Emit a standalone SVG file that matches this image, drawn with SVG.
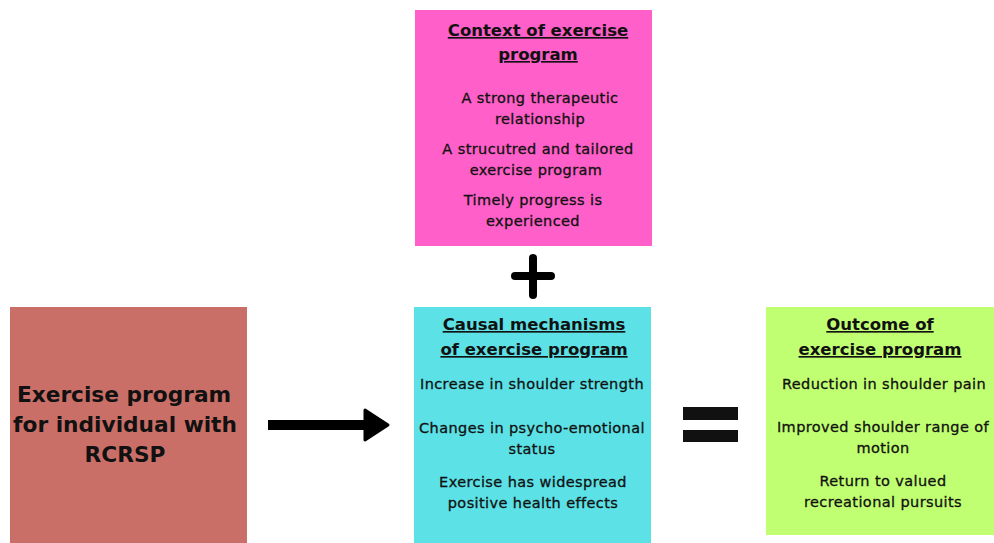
<svg xmlns="http://www.w3.org/2000/svg" width="994" height="543" viewBox="0 0 994 543">
<style>
.t{font-family:"DejaVu Sans","Noto Sans",sans-serif;font-weight:700;font-size:16.5px;fill:#111;text-anchor:middle;text-decoration:underline}
.b{font-family:"DejaVu Sans","Noto Sans",sans-serif;font-weight:400;font-size:14.5px;letter-spacing:0.4px;fill:#111;stroke:#111;stroke-width:0.3px;text-anchor:middle}
.m{font-family:"DejaVu Sans","Noto Sans",sans-serif;font-weight:700;font-size:21.7px;fill:#111;text-anchor:middle}
</style>
<rect width="994" height="543" fill="#ffffff"/>
<g id="context">
<rect x="415" y="10" width="237" height="236" fill="#ff5fc8"/>
<text class="t" x="538" y="36">Context of exercise</text>
<text class="t" x="538" y="60">program</text>
<text class="b" x="540" y="103">A strong therapeutic</text>
<text class="b" x="540" y="124">relationship</text>
<text class="b" x="538" y="154">A strucutred and tailored</text>
<text class="b" x="536" y="175">exercise program</text>
<text class="b" x="533" y="205">Timely progress is</text>
<text class="b" x="533" y="226">experienced</text>
</g>
<g id="exercise">
<rect x="10" y="307" width="237" height="236" fill="#ca6f67"/>
<text class="m" x="124" y="402">Exercise program</text>
<text class="m" x="125" y="432">for individual with</text>
<text class="m" x="125" y="462">RCRSP</text>
</g>
<g id="mechanisms">
<rect x="414" y="307" width="237" height="236" fill="#5ce1e6"/>
<text class="t" x="534" y="330">Causal mechanisms</text>
<text class="t" x="534" y="355">of exercise program</text>
<text class="b" x="532" y="389">Increase in shoulder strength</text>
<text class="b" x="532" y="433">Changes in psycho-emotional</text>
<text class="b" x="532" y="454">status</text>
<text class="b" x="533" y="487">Exercise has widespread</text>
<text class="b" x="533" y="508">positive health effects</text>
</g>
<g id="outcome">
<rect x="766" y="307" width="228" height="228" fill="#c1ff72"/>
<text class="t" x="880" y="330">Outcome of </text>
<text class="t" x="880" y="355">exercise program</text>
<text class="b" x="884" y="389">Reduction in shoulder pain</text>
<text class="b" x="883" y="432">Improved shoulder range of</text>
<text class="b" x="883" y="453">motion</text>
<text class="b" x="883" y="486">Return to valued</text>
<text class="b" x="883" y="507">recreational pursuits</text>
</g>
<g id="connectors">
<line x1="268" y1="425" x2="368" y2="425" stroke="#000" stroke-width="10"/>
<path d="M365 410 L388 425 L365 440 Z" fill="#000" stroke="#000" stroke-width="3" stroke-linejoin="round"/>
<g stroke="#000" stroke-width="8" stroke-linecap="round">
<line x1="515" y1="276" x2="551" y2="276"/>
<line x1="533" y1="258" x2="533" y2="295"/>
</g>
<rect x="683" y="407" width="55" height="13" fill="#111"/>
<rect x="683" y="430" width="55" height="12" fill="#111"/>
</g>
</svg>
